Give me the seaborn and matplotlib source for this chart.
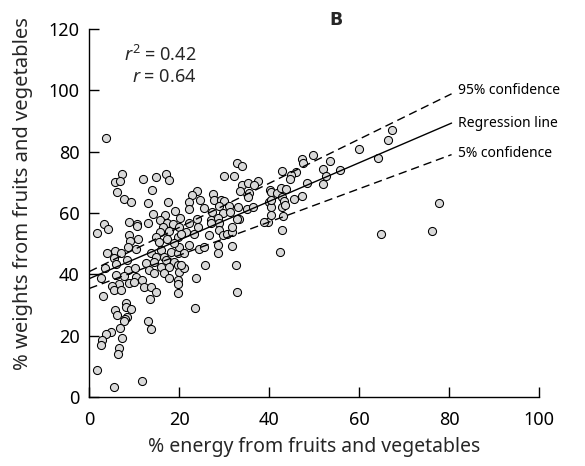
import matplotlib
matplotlib.use("Agg")
import matplotlib.pyplot as plt
import seaborn as sns
import numpy as np
import pandas as pd

# ---- data ----
energy = [
    3.6, 7.2, 5.6, 6.8, 12.0, 14.9, 17.0, 17.7, 13.9, 6.2, 7.6, 9.3, 13.1, 17.5, 14.2, 16.8, 19.0, 20.1,
    15.7, 8.8, 3.3, 10.7, 13.1, 17.3, 18.6,
    1.6, 4.2, 10.5, 16.4, 19.9, 15.7, 17.7, 8.8, 10.9, 9.0, 14.8, 15.5, 17.3, 19.6, 8.7, 10.3, 4.0, 5.7,
    7.0, 5.5, 8.4, 13.6, 15.9, 14.8, 16.6, 18.1, 19.6, 19.9, 18.8, 12.5, 14.4, 17.0, 18.8, 3.5, 5.9, 8.7,
    10.2, 13.3, 15.9, 17.7, 19.6, 19.9, 16.6, 14.4, 2.5, 5.9, 7.7, 10.3, 11.8, 17.7, 19.8, 6.6, 8.8, 9.9,
    12.2, 13.6, 5.0, 5.5, 7.0, 14.8, 13.4, 19.8, 19.8, 3.0, 8.1,
    5.7, 6.2, 8.1, 9.2, 8.4, 7.9, 7.7, 6.8, 7.3, 4.8, 3.8, 2.9, 2.7, 6.6, 6.4, 13.1, 13.6, 1.8, 5.5, 11.8,
    32.9, 33.9, 29.9, 32.2, 34.0, 35.3, 37.5, 36.6, 33.5, 35.5, 35.3, 40.1, 23.9, 22.8, 27.5, 24.7, 27.6,
    29.2, 29.9, 22.2, 22.2, 25.5, 28.8, 31.0, 33.1, 35.1, 36.4, 39.9, 40.3, 27.3, 29.8, 31.2, 24.0, 27.0,
    28.7, 33.3, 39.6, 22.2,
    21.4, 23.3, 24.1, 27.0, 28.8, 26.6, 28.8, 29.6, 30.7, 31.8, 31.6, 32.8, 28.5, 28.5, 31.6, 24.4, 25.5,
    22.2, 21.0, 20.3, 25.7, 32.7, 23.8, 32.9, 23.4, 21.0, 20.3, 38.8,
    42.9, 42.4, 43.0, 42.9, 45.9, 44.9, 44.6, 40.3, 41.8, 42.7, 43.8, 42.9, 43.3, 45.5, 42.9, 43.5, 40.3,
    40.3,
    47.2, 47.4, 49.6, 53.5, 52.0, 52.6, 55.7, 51.9, 48.3, 47.3, 59.9, 64.2, 66.3, 67.3, 77.6, 64.8, 76.2,
]
weights = [
    84.5, 72.6, 70.0, 70.4, 71.1, 71.6, 72.6, 70.9, 67.4, 66.8, 64.6, 63.6, 63.3, 63.5, 59.8, 59.4, 60.5, 58.5,
    57.6, 57.1, 56.3, 56.3, 56.8, 56.6, 56.4,
    53.6, 54.9, 55.7, 55.5, 55.5, 53.8, 54.1, 52.8, 51.4, 50.8, 52.2, 50.6, 51.4, 52.2, 48.8, 48.4, 46.8, 47.7,
    46.8, 45.2, 44.8, 46.8, 47.9, 45.7, 45.7, 47.3, 46.8, 49.0, 50.1, 43.7, 44.1, 44.6, 44.1, 41.9, 43.5, 41.4,
    41.9, 41.4, 42.4, 42.4, 43.0, 40.8, 40.5, 40.3, 38.7, 39.7, 39.4, 39.2, 38.3, 38.7, 38.3, 37.0, 37.2, 37.6,
    35.9, 35.9, 36.2, 34.9, 34.9, 34.3, 32.1, 37.0, 34.0, 32.9, 30.5,
    28.3, 26.7, 29.4, 28.7, 26.2, 25.4, 24.8, 22.6, 19.1, 21.3, 20.4, 18.6, 16.9, 16.1, 13.9, 24.8, 22.1, 8.8, 3.4, 5.3,
    76.3, 75.3, 71.9, 72.1, 69.2, 69.8, 70.5, 69.1, 67.1, 66.5, 65.2, 67.4, 67.1, 65.8, 66.3, 64.1, 64.2,
    64.2, 63.9, 63.6, 61.2, 61.5, 62.2, 62.3, 61.8, 61.3, 61.8, 63.6, 61.8, 60.4, 60.0, 60.2, 57.9, 57.7,
    58.5, 58.2, 57.1, 56.8,
    53.8, 53.3, 55.5, 56.6, 56.6, 52.8, 54.4, 52.8, 53.1, 53.8, 55.3, 58.2, 49.5, 46.8, 49.2, 48.4, 48.8,
    49.5, 46.8, 53.3, 43.2, 43.0, 38.9, 34.3, 28.9, 41.9, 43.0, 57.1,
    54.5, 47.3, 59.0, 73.6, 73.4, 72.3, 71.0, 66.9, 66.5, 68.2, 67.8, 65.3, 63.9, 64.4, 62.0, 62.5, 64.2,
    59.3,
    77.7, 76.4, 78.9, 77.0, 74.5, 72.1, 73.9, 69.4, 69.9, 65.6, 80.8, 77.9, 83.7, 87.1, 63.4, 53.3, 54.2,
]

# fitted lines: intercept, slope (as drawn in the reference), x range
line_names = ["95% confidence", "Regression line", "5% confidence"]
line_intercepts = [40.9, 38.6, 35.4]
line_slopes = [0.72, 0.63, 0.542]
line_x = [0.0, 80.5]
label_y = [99.8, 89.2, 79.5]

x_ticks = [0, 20, 40, 60, 80, 100]
y_ticks = [0, 20, 40, 60, 80, 100, 120]
stat_texts = ["$r^2$ = 0.42", "$r$ = 0.64"]

FONT = "Noto Sans"

sns.set_style("ticks")
plt.rcParams["font.family"] = [FONT, "DejaVu Sans"]
plt.rcParams["mathtext.fontset"] = "custom"
plt.rcParams["mathtext.rm"] = FONT
plt.rcParams["mathtext.it"] = FONT + ":italic"

fig = plt.figure(figsize=(5.85, 4.66), dpi=100)
ax = fig.add_axes([0.1527, 0.1481, 0.7692, 0.7897])

df = pd.DataFrame({"energy": energy, "weights": weights})
sns.scatterplot(data=df, x="energy", y="weights", ax=ax, s=34, color="#d9d9d9",
                edgecolor="black", linewidth=0.75, zorder=3)

xs = np.array(line_x)
styles = [(0, (6, 3.5)), "-", (0, (6, 3.5))]
for name, b0, b1, ls, ly in zip(line_names, line_intercepts, line_slopes, styles, label_y):
    ys = b0 + b1 * xs
    sns.lineplot(x=xs, y=ys, ax=ax, color="black", linewidth=1.0, linestyle=ls, zorder=4)
    ax.text(82.0, ly, name, ha="left", va="center", fontsize=10, color="black")

ax.text(23.9, 111.5, stat_texts[0], ha="right", va="center", fontsize=13)
ax.text(23.9, 104.4, stat_texts[1], ha="right", va="center", fontsize=13)
ax.text(54.8, 122.8, "B", ha="center", va="center", fontsize=12.5, fontweight="bold",
        family=["DejaVu Sans"])

ax.set_xlim(0, 100)
ax.set_ylim(0, 120)
ax.set_xticks(x_ticks)
ax.set_yticks(y_ticks)
ax.tick_params(direction="in", length=7, width=1.0, labelsize=13, pad=7, colors="black")
ax.tick_params(axis="x", pad=10)
for side in ["top", "right"]:
    ax.spines[side].set_visible(False)
for side in ["left", "bottom"]:
    ax.spines[side].set_linewidth(1.0)
    ax.spines[side].set_color("black")

ax.set_xlabel("% energy from fruits and vegetables", fontsize=14)
ax.set_ylabel("% weights from fruits and vegetables", fontsize=14.5)
ax.xaxis.set_label_coords(0.5, -0.136)
ax.xaxis.label.set_va("center")
ax.yaxis.set_label_coords(-0.147, 0.552)
ax.yaxis.label.set_va("center")

fig.savefig("out.png", dpi=100)
